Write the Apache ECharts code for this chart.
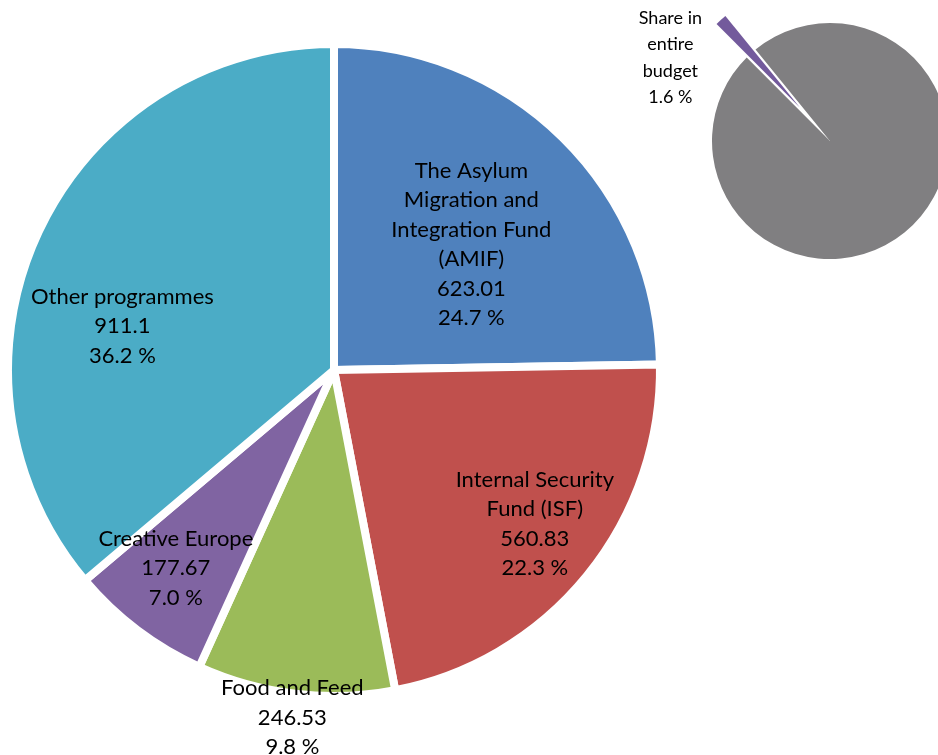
<!DOCTYPE html>
<html>
<head>
<meta charset="utf-8">
<script src="https://cdn.jsdelivr.net/npm/echarts@6/dist/echarts.min.js"></script>
<style>
html,body{margin:0;padding:0;background:#fff;}
#chart{width:938px;height:755px;}
</style>
</head>
<body>
<div id="chart"></div>
<script>
// ---- data ----
var categories = [
  'The Asylum\nMigration and\nIntegration Fund\n(AMIF)',
  'Internal Security\nFund (ISF)',
  'Food and Feed',
  'Creative Europe',
  'Other programmes'
];
var values = [623.01, 560.83, 246.53, 177.67, 911.1];
var shareNames = ['Share in\nentire\nbudget', 'Rest of budget'];
var shareValues = [1.6, 98.4];

// ---- styles ----
var colors = ['#4F81BD', '#C0504D', '#9BBB59', '#8064A2', '#4BACC6'];
var labelOffsets = [[21, -7], [72, 49], [-22, 183], [-58, 66], [-61, 26]];
var FONT = 'Lato, "Open Sans", sans-serif';
var PURPLE = '#735A9C';
var GRAY = '#807F81';
var CLEAR = 'rgba(0,0,0,0)';

var mainData = categories.map(function (c, i) {
  return {
    name: c,
    value: values[i],
    itemStyle: { color: colors[i] },
    label: { offset: labelOffsets[i] }
  };
});

// small pie: gray remainder, with the exploded purple share drawn as a
// second pie whose centre is pushed out along the slice's mid-angle
var shareStart = 134.9;
var explode = 45;
var shareR = 118;
var smallCenter = [830, 141];
var midRad = (shareStart - shareValues[0] / (shareValues[0] + shareValues[1]) * 180) * Math.PI / 180;
var explodedCenter = [smallCenter[0] + explode * Math.cos(midRad), smallCenter[1] - explode * Math.sin(midRad)];

var grayData = [
  { name: shareNames[0], value: shareValues[0], itemStyle: { color: CLEAR }, label: { show: false } },
  { name: shareNames[1], value: shareValues[1], itemStyle: { color: GRAY }, label: { show: false } }
];
var purpleData = [
  { name: shareNames[0], value: shareValues[0], itemStyle: { color: PURPLE },
    label: { show: true, offset: [-88, -4] } },
  { name: shareNames[1], value: shareValues[1], itemStyle: { color: CLEAR }, label: { show: false } }
];

var chart = echarts.init(document.getElementById('chart'), null, { renderer: 'canvas' });
chart.setOption({
  animation: false,
  backgroundColor: '#ffffff',
  series: [
    {
      type: 'pie',
      center: [334, 370],
      radius: [0, 326],
      startAngle: 90,
      clockwise: true,
      percentPrecision: 1,
      avoidLabelOverlap: false,
      silent: true,
      emphasis: { disabled: true },
      itemStyle: { borderColor: '#ffffff', borderWidth: 8 },
      label: {
        show: true,
        position: 'inside',
        color: '#000000',
        fontFamily: FONT,
        fontSize: 22,
        lineHeight: 29.5,
        align: 'center',
        formatter: function (p) {
          return p.name + '\n' + p.value + '\n' + p.percent.toFixed(1) + ' %';
        }
      },
      labelLine: { show: false },
      data: mainData
    },
    {
      type: 'pie',
      center: smallCenter,
      radius: [0, shareR],
      startAngle: shareStart,
      clockwise: true,
      avoidLabelOverlap: false,
      silent: true,
      emphasis: { disabled: true },
      itemStyle: { borderWidth: 0 },
      labelLine: { show: false },
      data: grayData
    },
    {
      type: 'pie',
      center: explodedCenter,
      radius: [0, shareR],
      startAngle: shareStart,
      clockwise: true,
      percentPrecision: 1,
      avoidLabelOverlap: false,
      silent: true,
      emphasis: { disabled: true },
      itemStyle: { borderWidth: 0 },
      label: {
        position: 'inside',
        color: '#000000',
        fontFamily: FONT,
        fontSize: 18,
        lineHeight: 26.5,
        align: 'center',
        formatter: function (p) {
          return p.name + '\n' + p.value.toFixed(1) + ' %';
        }
      },
      labelLine: { show: false },
      data: purpleData
    }
  ]
});
</script>
</body>
</html>
